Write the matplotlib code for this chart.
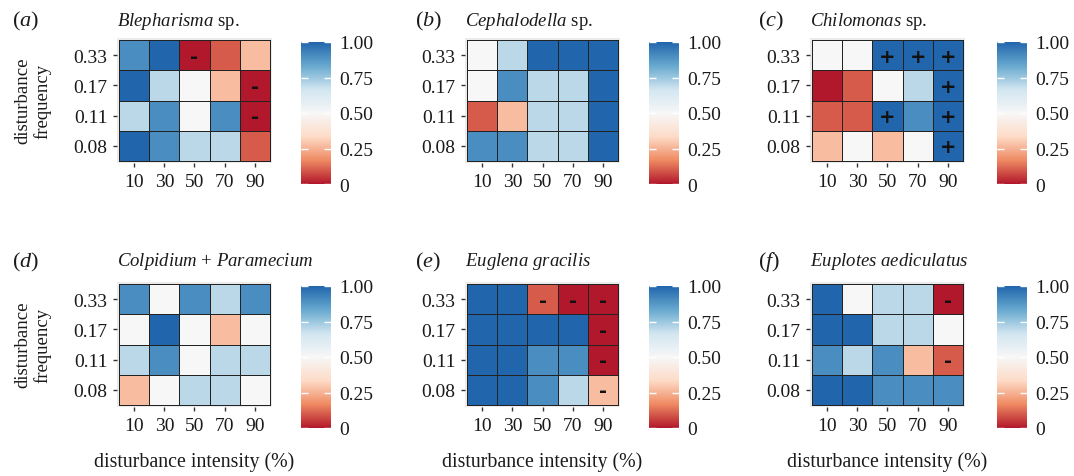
import matplotlib
matplotlib.use("Agg")
import matplotlib.pyplot as plt
from matplotlib.colors import LinearSegmentedColormap
import numpy as np

plt.rcParams['font.family'] = ['Liberation Serif', 'DejaVu Serif']
plt.rcParams['mathtext.fontset'] = 'custom'
plt.rcParams['mathtext.rm'] = 'Liberation Serif'
plt.rcParams['mathtext.it'] = 'Liberation Serif:italic'

# data: rows are frequency 0.33, 0.17, 0.11, 0.08 (top to bottom)
intensity = ['10', '30', '50', '70', '90']
frequency = ['0.33', '0.17', '0.11', '0.08']

panel_tags = ['a', 'b', 'c', 'd', 'e', 'f']
titles = [
    r'$\mathit{Blepharisma}$ sp.',
    r'$\mathit{Cephalodella}$ sp.',
    r'$\mathit{Chilomonas}$ sp.',
    r'$\mathit{Colpidium}$ + $\mathit{Paramecium}$',
    r'$\mathit{Euglena}$ $\mathit{gracilis}$',
    r'$\mathit{Euplotes}$ $\mathit{aediculatus}$',
]

blepharisma = [[0.90, 1.00, 0.00, 0.10, 0.27],
               [1.00, 0.70, 0.50, 0.27, 0.00],
               [0.70, 0.90, 0.50, 0.90, 0.00],
               [1.00, 0.90, 0.70, 0.70, 0.10]]
cephalodella = [[0.50, 0.70, 1.00, 1.00, 1.00],
                [0.50, 0.90, 0.70, 0.70, 1.00],
                [0.10, 0.27, 0.70, 0.70, 1.00],
                [0.90, 0.90, 0.70, 0.70, 1.00]]
chilomonas = [[0.50, 0.50, 1.00, 1.00, 1.00],
              [0.00, 0.10, 0.50, 0.70, 1.00],
              [0.10, 0.10, 1.00, 0.90, 1.00],
              [0.27, 0.50, 0.27, 0.50, 1.00]]
colpidium = [[0.90, 0.50, 0.90, 0.70, 0.90],
             [0.50, 1.00, 0.50, 0.27, 0.50],
             [0.70, 0.90, 0.50, 0.70, 0.70],
             [0.27, 0.50, 0.70, 0.70, 0.50]]
euglena = [[1.00, 1.00, 0.10, 0.00, 0.00],
           [1.00, 1.00, 1.00, 1.00, 0.00],
           [1.00, 1.00, 0.90, 0.90, 0.00],
           [1.00, 1.00, 0.90, 0.70, 0.27]]
euplotes = [[1.00, 0.50, 0.70, 0.70, 0.00],
            [1.00, 1.00, 0.70, 0.70, 0.50],
            [0.90, 0.70, 0.90, 0.27, 0.10],
            [1.00, 1.00, 0.90, 0.90, 0.90]]

blepharisma_sig = [['', '', '-', '', ''],
                   ['', '', '', '', '-'],
                   ['', '', '', '', '-'],
                   ['', '', '', '', '']]
cephalodella_sig = [[''] * 5 for _ in range(4)]
chilomonas_sig = [['', '', '+', '+', '+'],
                  ['', '', '', '', '+'],
                  ['', '', '+', '', '+'],
                  ['', '', '', '', '+']]
colpidium_sig = [[''] * 5 for _ in range(4)]
euglena_sig = [['', '', '-', '-', '-'],
               ['', '', '', '', '-'],
               ['', '', '', '', '-'],
               ['', '', '', '', '-']]
euplotes_sig = [['', '', '', '', '-'],
                ['', '', '', '', ''],
                ['', '', '', '', '-'],
                ['', '', '', '', '']]

values = [blepharisma, cephalodella, chilomonas, colpidium, euglena, euplotes]
signs = [blepharisma_sig, cephalodella_sig, chilomonas_sig,
         colpidium_sig, euglena_sig, euplotes_sig]

cmap = LinearSegmentedColormap.from_list('rdbu', [
    '#B2182B', '#EF8A62', '#FDDBC7', '#F7F7F7',
    '#D1E5F0', '#67A9CF', '#2166AC'])

W, H = 1074, 477
fig = plt.figure(figsize=(W / 100, H / 100), dpi=100)


def rect(l, t, w, h):
    return [l / W, 1 - (t + h) / H, w / W, h / H]


lefts = [117, 465, 810]
tops = [39, 283]
cb_lefts = [301, 649, 997]
cb_tops = [43, 287]
text_col = '#1a1a1a'
m = 0.07

for i in range(6):
    r, c = divmod(i, 3)
    ax = fig.add_axes(rect(lefts[c], tops[r], 155, 125))
    ax.set_facecolor('#EBEBEB')
    z = np.array(values[i])
    mesh = ax.pcolormesh(np.arange(6) - 0.5, np.arange(5) - 0.5, z,
                         cmap=cmap, vmin=0, vmax=1,
                         edgecolors='#222222', linewidth=0.6)
    for rr in range(4):
        for cc in range(5):
            s = signs[i][rr][cc]
            if s:
                ax.text(cc, rr + 0.03, s, ha='center', va='center',
                        fontsize=14, fontweight='bold', family='DejaVu Sans',
                        color='#111111')
    ax.set_xlim(-0.5 - m, 4.5 + m)
    ax.set_ylim(3.5 + m, -0.5 - m)
    ax.set_xticks(range(5))
    ax.set_xticklabels(intensity)
    ax.set_yticks(range(4))
    ax.set_yticklabels(frequency)
    ax.tick_params(length=3, width=1, color='#333333', labelsize=14,
                   labelcolor=text_col, pad=4)
    for sp in ax.spines.values():
        sp.set_visible(False)

    cax = fig.add_axes(rect(cb_lefts[c], cb_tops[r], 30, 142))
    cb = fig.colorbar(mesh, cax=cax, ticks=[0, 0.25, 0.5, 0.75, 1])
    cb.set_ticklabels(['0', '0.25', '0.50', '0.75', '1.00'])
    cb.outline.set_visible(False)
    cax.tick_params(direction='in', length=5, width=1, color='white',
                    left=True, right=True, labelsize=14,
                    labelcolor=text_col, pad=6)

    ty = 21 if r == 0 else 262
    tag_x = [12, 415, 758][c]
    fig.text(tag_x / W, 1 - ty / H, '($\\mathit{%s}$)' % panel_tags[i],
             ha='left', va='center', fontsize=16, color=text_col)
    fig.text(lefts[c] / W, 1 - ty / H, titles[i], ha='left',
             va='center', fontsize=13.5, color=text_col)

    if c == 0:
        yc = 101 if r == 0 else 345
        fig.text(33 / W, 1 - yc / H, 'disturbance\nfrequency', rotation=90,
                 ha='center', va='center', multialignment='center',
                 fontsize=13.5, color=text_col, linespacing=1.15)
    if r == 1:
        fig.text((lefts[c] + 77) / W, 1 - 462 / H,
                 'disturbance intensity (%)', ha='center', va='center',
                 fontsize=14.3, color=text_col)

fig.savefig('out.png', dpi=100)
